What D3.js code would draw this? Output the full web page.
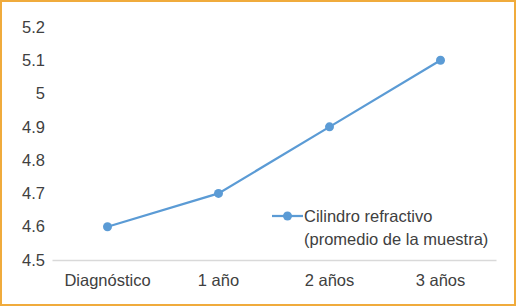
<!DOCTYPE html>
<html><head><meta charset="utf-8">
<script src="https://cdn.jsdelivr.net/npm/d3@7"></script>
<style>body{margin:0;background:#fff}svg{display:block}</style>
</head><body>
<script>
const categories = ["Diagnóstico", "1 año", "2 años", "3 años"];
const values = [4.6, 4.7, 4.9, 5.1];
const yTicks = [4.5, 4.6, 4.7, 4.8, 4.9, 5, 5.1, 5.2];
const legendLines = ["Cilindro refractivo", "(promedio de la muestra)"];

const W = 517, H = 307;
const svg = d3.select("body").append("svg").attr("width", W).attr("height", H);
svg.append("rect").attr("x", 1).attr("y", 1).attr("width", W - 3).attr("height", H - 3)
  .attr("fill", "#fff").attr("stroke", "#F0AB3C").attr("stroke-width", 2);

const m = {l: 52, r: 21, t: 27, b: 47};
const x = d3.scaleBand().domain(categories).range([m.l, W - m.r]);
const y = d3.scaleLinear().domain([4.5, 5.2]).range([H - m.b, m.t]);
const font = "Liberation Sans, Arial, sans-serif";
const fs = 16.5;

// y axis labels
const yAxis = d3.axisLeft(y).tickValues(yTicks).tickSize(0).tickPadding(7).tickFormat(d => String(d));
const gy = svg.append("g").attr("transform", `translate(${m.l},0)`).call(yAxis);
gy.select(".domain").remove();
gy.selectAll("text").attr("font-family", font).attr("font-size", fs).attr("fill", "#404040");

// x axis
const xAxis = d3.axisBottom(x).tickSize(0).tickPadding(14);
const gx = svg.append("g").attr("transform", `translate(0,${y(4.5)})`).call(xAxis);
gx.select(".domain").attr("stroke", "#D9D9D9").attr("stroke-width", 1.5);
gx.selectAll("text").attr("font-family", font).attr("font-size", fs).attr("fill", "#404040");

// line
const color = "#5B9BD5";
const line = d3.line().x((d, i) => x(categories[i]) + x.bandwidth() / 2).y(d => y(d));
svg.append("path").datum(values).attr("d", line).attr("fill", "none")
  .attr("stroke", color).attr("stroke-width", 2.25);
svg.selectAll("circle.pt").data(values).join("circle").attr("class", "pt")
  .attr("cx", (d, i) => x(categories[i]) + x.bandwidth() / 2).attr("cy", d => y(d))
  .attr("r", 4.5).attr("fill", color);

// legend
const lg = svg.append("g").attr("transform", "translate(272,216)");
lg.append("line").attr("x1", 0).attr("x2", 31).attr("y1", 0).attr("y2", 0)
  .attr("stroke", color).attr("stroke-width", 2.25);
lg.append("circle").attr("cx", 15.5).attr("cy", 0).attr("r", 4.5).attr("fill", color);
lg.selectAll("text").data(legendLines).join("text")
  .attr("x", 32).attr("y", (d, i) => 6 + i * 23)
  .attr("font-family", font).attr("font-size", fs).attr("fill", "#404040").text(d => d);
</script>
</body></html>
